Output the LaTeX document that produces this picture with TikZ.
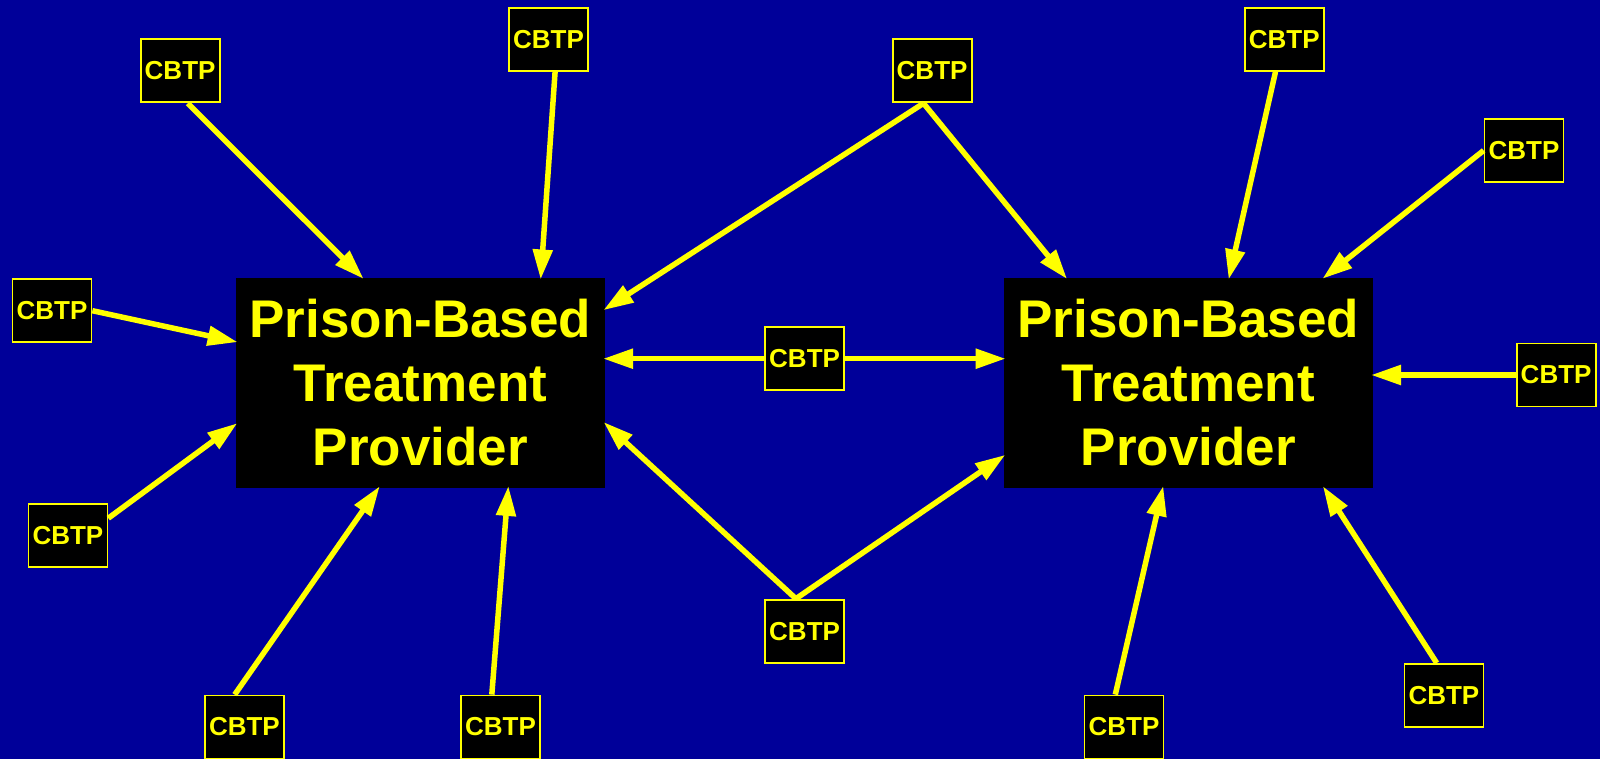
\documentclass[tikz,border=0pt]{standalone}
\usepackage{fontspec}
\setmainfont{Liberation Sans}
\usetikzlibrary{arrows.meta,calc}
\definecolor{bgblue}{RGB}{0,0,153}
\definecolor{ylw}{RGB}{255,255,0}
\tikzset{
  cbtp/.style={draw=ylw, line width=1.8pt, fill=black, text=ylw, minimum width=79pt, minimum height=63pt, inner sep=0pt, font=\fontsize{26}{30}\selectfont\bfseries},
  provider/.style={fill=black, text=ylw, minimum width=369pt, minimum height=210pt, inner sep=0pt, align=center, font=\fontsize{53}{63.8}\selectfont\bfseries},
  link/.style={draw=ylw, line width=5.5pt, shorten >=-2pt, -{Triangle[length=30pt,width=19pt]}}
}
\begin{document}
\begin{tikzpicture}[x=1pt,y=-1pt]
\useasboundingbox (0,0) rectangle (1600,759);
\fill[bgblue] (0,0) rectangle (1600,759);

\node[provider] (B1) at (420.4,382.7) {Prison-Based\\Treatment\\Provider};
\node[provider] (B2) at (1188.3,382.7) {Prison-Based\\Treatment\\Provider};

\node[cbtp] (c1) at (180.1,70.9) {CBTP};
\node[cbtp] (c2) at (548.5,39.3) {CBTP};
\node[cbtp] (c3) at (932.1,70.9) {CBTP};
\node[cbtp] (c4) at (1284.2,39.3) {CBTP};
\node[cbtp] (c5) at (1524.0,150.5) {CBTP};
\node[cbtp] (c6) at (52.0,310.7) {CBTP};
\node[cbtp] (c7) at (804.6,358.7) {CBTP};
\node[cbtp] (c8) at (1556.1,375.0) {CBTP};
\node[cbtp] (c9) at (67.9,535.2) {CBTP};
\node[cbtp] (c10) at (804.6,631.1) {CBTP};
\node[cbtp] (c11) at (1443.9,695.4) {CBTP};
\node[cbtp] (c12) at (244.4,727.0) {CBTP};
\node[cbtp] (c13) at (500.5,727.0) {CBTP};
\node[cbtp] (c14) at (1124.0,727.0) {CBTP};

% top arrows
\draw[link] ($(c1.south)+(7.7,0)$) -- ($(B1.north west)+(126.5,0)$);
\draw[link] ($(c2.south)+(6.6,0)$) -- ($(B1.north west)+(305.1,0)$);
\draw[link] ($(c3.south)+(-8.6,0)$) -- ($(B1.north east)+(0,31.6)$);
\draw[link] ($(c3.south)+(-8.6,0)$) -- ($(B2.north west)+(62.2,0)$);
\draw[link] ($(c4.south)+(-8.7,0)$) -- ($(B2.north west)+(225.5,0)$);
\draw[link] (c5.west) -- ($(B2.north west)+(320.4,0)$);
% side arrows
\draw[link] (c6.east) -- ($(B1.north west)+(0,64.2)$);
\draw[link] ($(c9.east)+(0,-17)$) -- ($(B1.north west)+(0,146.9)$);
\draw[link] (c7.west) -- (c7.west -| B1.east);
\draw[link] (c7.east) -- (c7.east -| B2.west);
\draw[link] (c8.west) -- (c8.west -| B2.east);
% bottom arrows
\draw[link] ($(c10.north)+(-8.7,0)$) -- ($(B1.north east)+(0,145.9)$);
\draw[link] ($(c10.north)+(-8.7,0)$) -- ($(B2.north west)+(0,178.5)$);
\draw[link] ($(c11.north)+(-7.2,0)$) -- ($(B2.south west)+(320.4,0)$);
\draw[link] ($(c12.north)+(-9.7,0)$) -- ($(B1.south west)+(142.9,0)$);
\draw[link] ($(c13.north)+(-8.7,0)$) -- ($(B1.south west)+(272.5,0)$);
\draw[link] ($(c14.north)+(-8.7,0)$) -- ($(B2.south west)+(159.2,0)$);
\end{tikzpicture}
\end{document}
